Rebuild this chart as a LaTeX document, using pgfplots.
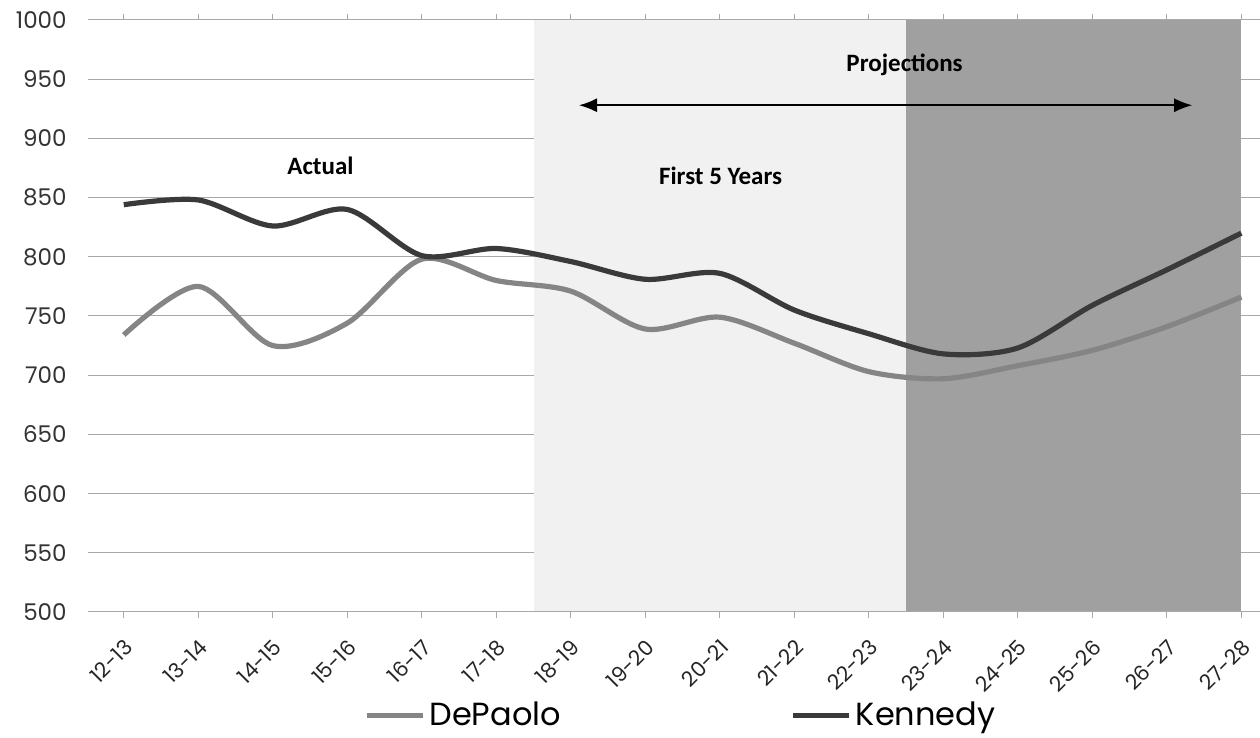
\documentclass[border=0pt]{standalone}
\usepackage{fontspec}
\setmainfont{Poppins}
\newfontfamily\calibri{Carlito}
\usepackage{pgfplots}
\pgfplotsset{compat=1.18}
\usetikzlibrary{arrows.meta}
\definecolor{kennedy}{HTML}{3A3A3A}
\definecolor{depaolo}{HTML}{858585}
\definecolor{gridc}{HTML}{A8A8A8}
\definecolor{darkshade}{HTML}{A0A0A0}
\definecolor{lightshade}{HTML}{F1F1F1}
\begin{document}
\begin{tikzpicture}
\begin{axis}[
  scale only axis,
  width=586pt, height=296pt,
  xmin=-0.48, xmax=15.25,
  ymin=500, ymax=1000,
  ytick={500,550,...,1000},
  xtick={0,...,15},
  xticklabels={12-13,13-14,14-15,15-16,16-17,17-18,18-19,19-20,20-21,21-22,22-23,23-24,24-25,25-26,26-27,27-28},
  /pgf/number format/assume math mode=true,
  /pgf/number format/1000 sep={},
  ymajorgrids,
  grid style={gridc, line width=0.5pt},
  axis line style={draw=none},
  tick align=outside,
  xtick style={gridc, line width=0.5pt},
  major tick length=3pt,
  ytick style={draw=none},
  yticklabel style={font=\fontsize{11.5}{13}\selectfont, inner sep=0pt, xshift=-7.5pt, text=black!80},
  xticklabel style={font=\fontsize{10.5}{12}\selectfont, xshift=2.6pt, yshift=-12.7pt, rotate=45, anchor=east, inner sep=0pt, text=black!85},
  clip=false,
  legend columns=2,
  legend style={at={(axis description cs:0.2355,-0.174)}, anchor=west, draw=none, fill=none, inner sep=0pt,
    font=\fontsize{16}{18}\selectfont,
    /tikz/every even column/.append style={column sep=113pt}},
  legend cell align=left,
  legend image code/.code={\draw[#1, line width=2.5pt] (0pt,0pt) -- (28pt,0pt);},
]
\coordinate (pll) at (rel axis cs:0,0);
\fill[lightshade] (axis cs:5.5,500) rectangle (axis cs:10.5,1000);
\fill[darkshade] (axis cs:10.5,500) rectangle (axis cs:15,1000);
\draw[gridc, line width=0.5pt] (axis cs:-0.48,500) -- (axis cs:15.25,500);
\addplot[depaolo, line width=2.6pt, smooth] coordinates {
(0,734) (1,775) (2,725) (3,744) (4,798) (5,780) (6,771) (7,739) (8,749) (9,727) (10,703) (11,697) (12,708) (13,721) (14,741) (15,766)};
\addlegendentry{DePaolo}
\addplot[kennedy, line width=2.6pt, smooth] coordinates {
(0,844) (1,848) (2,826) (3,840) (4,801) (5,807) (6,796) (7,781) (8,786) (9,755) (10,735) (11,718) (12,723) (13,759) (14,789) (15,820)};
\addlegendentry{Kennedy}
\draw[{Latex[length=9pt,width=7pt]}-{Latex[length=9pt,width=7pt]}, line width=0.8pt] (axis cs:6.11,928) -- (axis cs:14.34,928);
\node[font=\calibri\bfseries\fontsize{12.5}{14}\selectfont] at (axis cs:10.48,962) {Projections};
\node[font=\calibri\bfseries\fontsize{12.5}{14}\selectfont] at (axis cs:2.64,877) {Actual};
\node[font=\calibri\bfseries\fontsize{12.5}{14}\selectfont] at (axis cs:8.01,868) {First 5 Years};
\end{axis}
\pgfresetboundingbox
\useasboundingbox ([shift={(-44pt,-63pt)}]pll) rectangle ++(630pt,369pt);
\end{tikzpicture}
\end{document}
